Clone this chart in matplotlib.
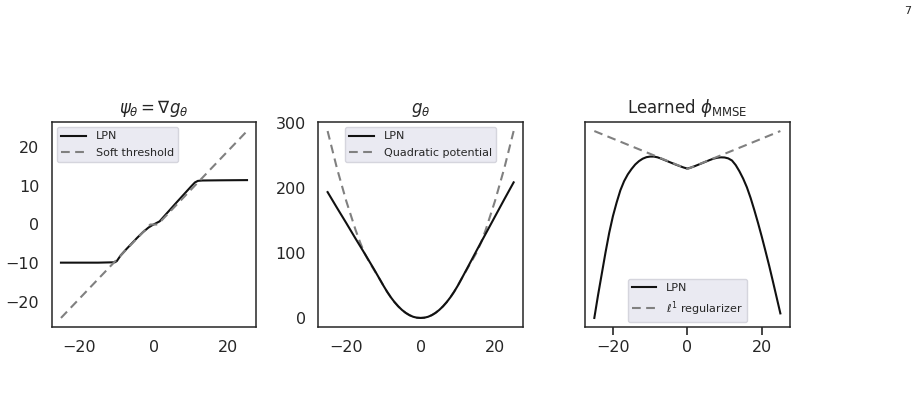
import matplotlib
matplotlib.use("Agg")
import matplotlib.pyplot as plt

# panel 1: psi = grad g
psi_x = [-25, -15, -10.5, -10, -9, -7.5, -6, -4.5, -3, -1.5, -0.5, 0.5, 1.5, 3, 4.5, 6, 8, 10, 11, 11.8, 13, 18, 25]
psi_lpn = [-9.8, -9.8, -9.7, -9.4, -8.0, -6.4, -4.9, -3.4, -2.0, -0.8, -0.2, 0.3, 0.8, 2.4, 4.0, 5.6, 7.7, 9.8, 10.8, 11.2, 11.3, 11.35, 11.4]
soft_x = [-25, -1, 1, 25]
soft_y = [-24, 0, 0, 24]

# panel 2: potential g
g_x = [-25, -22.5, -20, -17.5, -16.25, -15, -13.75, -12.5, -11, -10, -9, -8, -7, -6, -5, -4, -3, -2, -1, 0,
       1, 2, 3, 4, 5, 6, 7, 8, 9, 10, 11, 12.5, 13.75, 15, 16.25, 17.5, 20, 22.5, 25]
g_lpn = [194, 170, 146.5, 122.5, 110.8, 99, 87, 75, 60, 50, 40.5, 32, 24.5, 18, 12.5, 8, 4.5, 2, 0.6, 0.2,
         0.6, 2, 4.5, 8, 12.5, 18, 24.5, 32, 40.5, 50, 60.5, 76.5, 90, 103.5, 116.8, 130, 156.5, 183, 209]
g_quad = [288, 231, 180.5, 136, 116.3, 99, 86, 74, 60, 50, 40.5, 32, 24.5, 18, 12.5, 8, 4.5, 2, 0.6, 0.2,
          0.6, 2, 4.5, 8, 12.5, 18, 24.5, 32, 40.5, 50, 60.5, 75.5, 88, 100.5, 116.3, 136, 180.5, 231, 288]

# panel 3: learned phi_MMSE
phi_x = list(range(-25, 26))
phi_lpn = [-98, -83, -69, -55, -42, -31, -22, -14, -8, -3.5, 0, 3, 5.2, 6.8, 7.8, 8.2, 8.2, 7.7, 6.8, 5.8, 4.8,
           3.8, 2.8, 1.9, 1.0, 0.3, 1.0, 1.9, 2.9, 3.9, 4.9, 5.9, 6.8, 7.4, 7.7, 7.6, 7.0, 5.6, 2.6, -1.5, -6.3,
           -12.0, -19.0, -27.0, -35.5, -44.5, -54.0, -63.7, -74.0, -84.5, -95.0]
l1_x = [-25, 0, 25]
l1_y = [25, 0, 25]

plt.rcParams["font.family"] = "DejaVu Sans"
plt.rcParams["axes.edgecolor"] = "#262626"
plt.rcParams["axes.linewidth"] = 1.1
plt.rcParams["text.color"] = "#262626"
plt.rcParams["xtick.color"] = "#262626"
plt.rcParams["ytick.color"] = "#262626"

fig = plt.figure(figsize=(9.21, 3.99), dpi=100)
lefts = [0.0561, 0.3456, 0.6352]
axes = [fig.add_axes([l, 0.1797, 0.2222, 0.5153]) for l in lefts]

lpn_kw = dict(color="#111111", lw=1.5, label="LPN")
ref_kw = dict(color="#808080", lw=1.5, ls=(0, (4.2, 2.6)))

ax = axes[0]
ax.plot(psi_x, psi_lpn, **lpn_kw)
ax.plot(soft_x, soft_y, label="Soft threshold", **ref_kw)
ax.set_title(r"$\psi_\theta = \nabla g_\theta$", fontsize=12)
ax.set_yticks([-20, -10, 0, 10, 20])
ax.legend(loc="upper left")

ax = axes[1]
ax.plot(g_x, g_quad, label="Quadratic potential", **ref_kw)
ax.plot(g_x, g_lpn, **lpn_kw)
ax.set_title(r"$g_\theta$", fontsize=12)
ax.set_yticks([0, 100, 200, 300])
handles, labels = ax.get_legend_handles_labels()
ax.legend(handles[::-1], labels[::-1], loc="upper center")

ax = axes[2]
ax.plot(phi_x, phi_lpn, **lpn_kw)
ax.plot(l1_x, l1_y, label=r"$\ell^1$ regularizer", **ref_kw)
ax.set_title(r"Learned $\phi_{\mathrm{MMSE}}$", fontsize=12)
ax.set_yticks([])
ax.legend(loc="lower center")

for i, ax in enumerate(axes):
    ax.set_xticks([-20, 0, 20])
    old = ax.get_legend()
    h = old.legend_handles
    lab = [t.get_text() for t in old.get_texts()]
    loc = old._loc
    leg = ax.legend(h, lab, loc=loc, fontsize=8, borderpad=0.38, labelspacing=0.55,
                    handlelength=2.2, handletextpad=0.9, fancybox=True)
    leg.get_frame().set_facecolor("#EAEAF2")
    leg.get_frame().set_edgecolor("#D5D5DD")
    leg.get_frame().set_alpha(1)
    if i < 2:
        ax.tick_params(axis="both", length=0, pad=9, labelsize=11.5)
    else:
        ax.tick_params(axis="x", length=6, width=1.2, pad=3, labelsize=11.5)

fig.text(0.989, 0.985, "7", fontsize=8, ha="right", va="top")

fig.savefig("out.png", dpi=100)
